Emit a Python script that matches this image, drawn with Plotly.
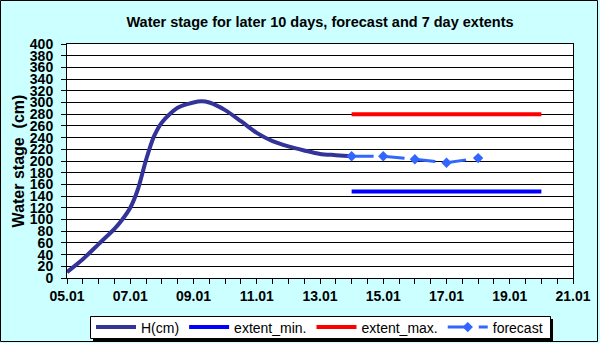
import plotly.graph_objects as go

# observed water stage (cm), last 10 days
h_dates = ["2000-01-05 00:00", "2000-01-05 12:00", "2000-01-06 00:00", "2000-01-06 12:00",
           "2000-01-06 18:00", "2000-01-07 00:00", "2000-01-07 06:00", "2000-01-07 12:00",
           "2000-01-07 18:00", "2000-01-08 00:00", "2000-01-08 12:00", "2000-01-09 00:00",
           "2000-01-09 06:00", "2000-01-09 12:00", "2000-01-10 00:00", "2000-01-10 12:00",
           "2000-01-11 00:00", "2000-01-11 12:00", "2000-01-12 00:00", "2000-01-12 12:00",
           "2000-01-13 00:00", "2000-01-13 12:00", "2000-01-14 00:00"]
h_values = [10, 32, 58, 84, 100, 120, 153, 202, 242, 266, 291, 300,
            302, 300, 287, 268, 248, 234, 225, 218, 212, 210, 208]

# 7 day extents
ext_dates = ["2000-01-14", "2000-01-20"]
ext_min = [148, 148]
ext_max = [280, 280]

# forecast
fc_dates = ["2000-01-14", "2000-01-15", "2000-01-16", "2000-01-17", "2000-01-18"]
fc_values = [208, 208, 203, 197, 205]

FONT = "Liberation Sans, Arial, sans-serif"

# plot area in pixels: x 67..573, y 44..278
def px(x):
    return (x - 67) / 506


def py(y):
    return (278 - y) / 234


fig = go.Figure()
fig.add_trace(go.Scatter(x=h_dates, y=h_values, name="H(cm)", mode="lines",
                         line=dict(color="#333399", width=4, shape="spline", smoothing=0.8)))
fig.add_trace(go.Scatter(x=ext_dates, y=ext_min, name="extent_min.", mode="lines",
                         line=dict(color="#0000ff", width=4)))
fig.add_trace(go.Scatter(x=ext_dates, y=ext_max, name="extent_max.", mode="lines",
                         line=dict(color="#ff0000", width=4)))
fig.add_trace(go.Scatter(x=fc_dates, y=fc_values, name="forecast", mode="lines+markers",
                         line=dict(color="#3366ff", width=3, dash="22px,9px"),
                         marker=dict(symbol="diamond", size=8, color="#3366ff")))

# outer frame
fig.add_shape(type="rect", xref="paper", yref="paper",
              x0=px(0.5), x1=px(597.5), y0=py(341.5), y1=py(0.5),
              line=dict(color="black", width=1), layer="below")
# legend box with shadow
fig.add_shape(type="rect", xref="paper", yref="paper",
              x0=px(93), x1=px(553), y0=py(341), y1=py(319),
              fillcolor="black", line=dict(width=0), layer="below")
fig.add_shape(type="rect", xref="paper", yref="paper",
              x0=px(90.5), x1=px(550.5), y0=py(338.5), y1=py(316.5),
              fillcolor="white", line=dict(color="black", width=1), layer="below")

fig.update_layout(
    width=600, height=343,
    margin=dict(l=67, r=27, t=44, b=65, autoexpand=False),
    paper_bgcolor="#ccffff",
    plot_bgcolor="white",
    font=dict(family=FONT, color="black"),
    title=dict(text="<b>Water stage for later 10 days, forecast and 7 day extents</b>",
               xref="paper", x=0.5, xanchor="center", y=1 - 22 / 343, yanchor="middle",
               font=dict(size=14.5)),
    showlegend=True,
    legend=dict(orientation="h", x=px(91), xanchor="left",
                y=py(327.5), yanchor="middle",
                bgcolor="rgba(0,0,0,0)", borderwidth=0,
                font=dict(size=14), itemwidth=40),
    xaxis=dict(type="date", range=["2000-01-05", "2000-01-21"], automargin=False,
               tick0="2000-01-05", dtick=2 * 86400000, tickformat="%d.%m",
               ticks="outside", ticklen=5, tickcolor="black",
               minor=dict(dtick=43200000, ticks="outside", ticklen=5, tickcolor="black", showgrid=False),
               showgrid=False, showline=True, linecolor="black", linewidth=1, mirror=True,
               tickfont=dict(size=14, weight="bold"), zeroline=False),
    yaxis=dict(range=[0, 400], dtick=20, showgrid=True, gridcolor="black", gridwidth=1,
               automargin=False,
               ticks="outside", ticklen=5, tickcolor="black", ticklabelstandoff=5,
               showline=True, linecolor="black", linewidth=1, mirror=True,
               tickfont=dict(size=14, weight="bold"), zeroline=False,
               title=dict(text="<b>Water stage  (cm)</b>", font=dict(size=16), standoff=1)),
)

fig.write_html("out.html", config={"displayModeBar": False},
               post_script="document.body.style.margin='0px';")
